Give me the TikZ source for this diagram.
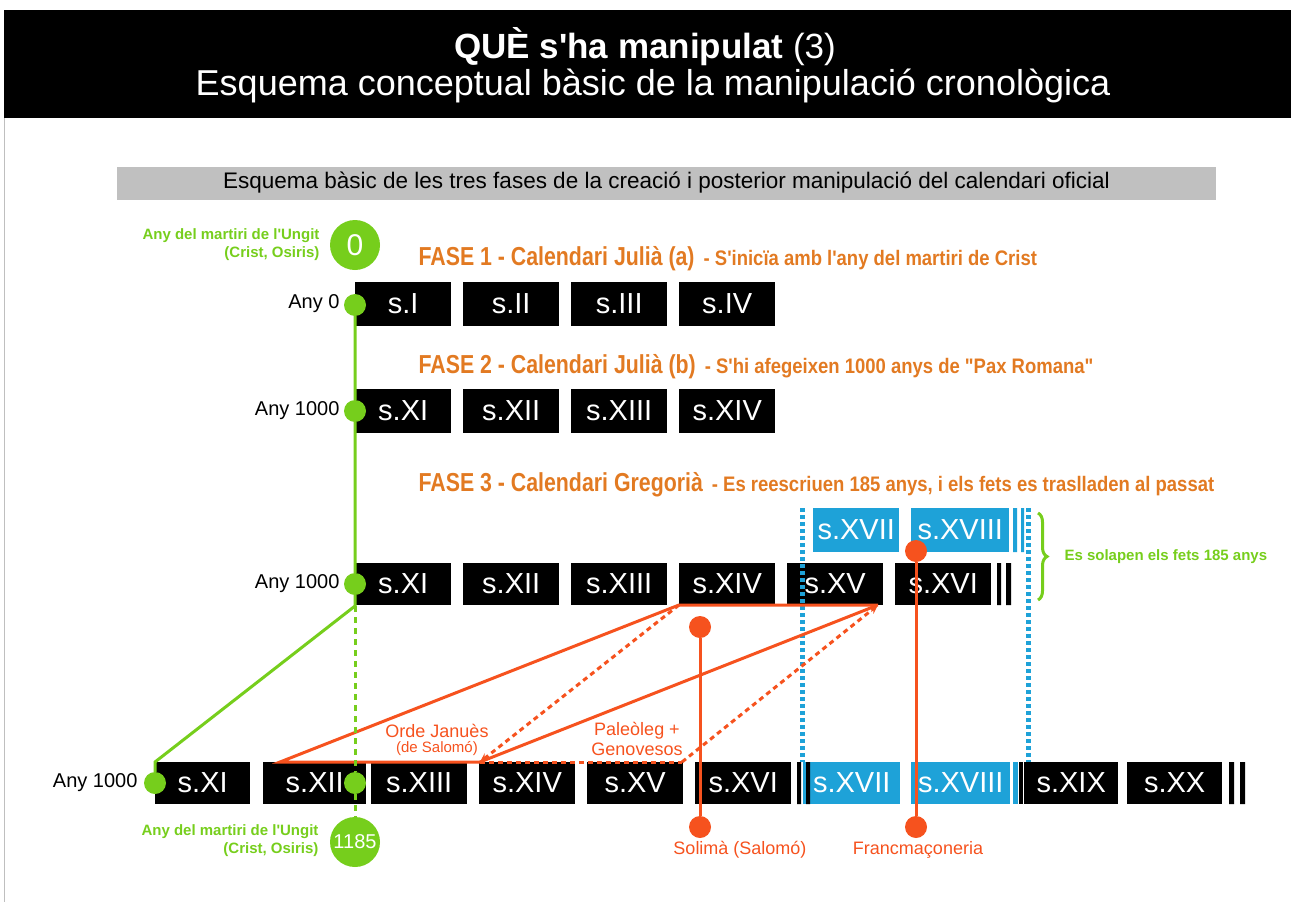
\documentclass[tikz,border=0pt]{standalone}
\usepackage{fontspec}
\setmainfont{Liberation Sans}[Ligatures=TeXOff]
\newfontfamily\fasefont{Liberation Sans}[FakeStretch=0.82,Ligatures=TeXOff]
\newfontfamily\subfont{Liberation Sans}[FakeStretch=0.88,Ligatures=TeXOff]
\usepackage{tikz}
\usetikzlibrary{arrows.meta}
\usetikzlibrary{positioning}
\usetikzlibrary{decorations.pathreplacing}
\definecolor{lime}{RGB}{118,206,28}
\definecolor{fase}{RGB}{226,122,34}
\definecolor{roig}{RGB}{246,82,30}
\definecolor{cel}{RGB}{30,162,216}
\definecolor{barra}{RGB}{192,192,192}
\tikzstyle{cent}=[fill=black,text=white,minimum width=96pt,minimum height=44pt,inner sep=0,anchor=west,font=\fontsize{29}{29}\selectfont]
\tikzstyle{gdot}=[circle,fill=lime,minimum size=22pt,inner sep=0]

\begin{document}
\begin{tikzpicture}[
 x=1pt,y=-1pt,
  blue cent/.style={cent,fill=cel},
  low cent/.style={cent,minimum height=42pt},
  odot/.style={circle,fill=roig,minimum size=22pt,inner sep=0},
  big dot/.style={circle,fill=lime,minimum size=50pt,inner sep=0,text=white},
  any/.style={anchor=east,font=\fontsize{20}{20}\selectfont},
  ungit/.style={align=right,anchor=east,text=lime,font=\fontsize{15}{18}\selectfont\bfseries},
  fase title/.style={anchor=west,text=fase,font=\fasefont\fontsize{26}{26}\selectfont\bfseries},
  fase sub/.style={anchor=base west,text=fase,font=\subfont\fontsize{21}{21}\selectfont\bfseries},
  gline/.style={lime,line width=3pt},
  gdash/.style={lime,line width=3pt,dash pattern=on 6pt off 5pt},
  oline/.style={roig,line width=3pt},
  odash/.style={roig,line width=3pt,dash pattern=on 5pt off 4pt},
  otext/.style={text=roig,font=\fontsize{18}{18}\selectfont},
  bdash/.style={cel,line width=5pt,dash pattern=on 4pt off 3pt},
  tip/.style={-{Stealth[length=9pt,width=8pt]}},
]
\useasboundingbox (0,0) rectangle (1291,902);
\draw[gray!50,line width=1pt] (4,902) -- (4,10) -- (1291,10);

% capcalera
\fill[black] (4,10) rectangle (1291,118);
\node[text=white,font=\fontsize{35}{35}\selectfont] (t1) at (645,47) {\textbf{QUÈ s'ha manipulat} (3)};
\node[text=white,font=\fontsize{36}{36}\selectfont] (t2) at (653,86) {Esquema conceptual bàsic de la manipulació cronològica};
\node[fill=barra,minimum width=1099pt,minimum height=33pt,inner sep=0,font=\fontsize{22.5}{22.5}\selectfont] (gb) at (666.5,183) {Esquema bàsic de les tres fases de la creació i posterior manipulació del calendari oficial};

% fase 1
\node[fase title] (f1) at (415,259) {FASE 1 - Calendari Julià (a)};
\node[fase sub] (f1s) at ([xshift=2pt]f1.base east) {- S'inicïa amb l'any del martiri de Crist};
\node[big dot,font=\fontsize{30}{30}\selectfont] (z0) at (355,245) {0};
\node[ungit] (u0) at (323,245) {Any del martiri de l'Ungit\\(Crist, Osiris)};
\node[cent] (a1) at (355,304) {s.I};
\node[cent] (a2) at (463,304) {s.II};
\node[cent] (a3) at (571,304) {s.III};
\node[cent] (a4) at (679,304) {s.IV};
\node[any] (y0) at (343,304) {Any 0};

% fase 2
\node[fase title] (f2) at (415,367) {FASE 2 - Calendari Julià (b)};
\node[fase sub] (f2s) at ([xshift=2pt]f2.base east) {- S'hi afegeixen 1000 anys de "Pax Romana"};
\node[cent] (b1) at (355,411) {s.XI};
\node[cent] (b2) at (463,411) {s.XII};
\node[cent] (b3) at (571,411) {s.XIII};
\node[cent] (b4) at (679,411) {s.XIV};
\node[any] (y1) at (343,411) {Any 1000};

% fase 3
\node[fase title] (f3) at (415,485) {FASE 3 - Calendari Gregorià};
\node[fase sub] (f3s) at ([xshift=2pt]f3.base east) {- Es reescriuen 185 anys, i els fets es traslladen al passat};
\node[low cent] (c1) at (355,584) {s.XI};
\node[low cent] (c2) at (463,584) {s.XII};
\node[low cent] (c3) at (571,584) {s.XIII};
\node[low cent] (c4) at (679,584) {s.XIV};
\node[low cent] (c5) at (787,584) {s.XV};
\node[low cent] (c6) at (895,584) {s.XVI};
\fill[black] (997,563) rectangle (1001,605) (1006,563) rectangle (1011,605);
\node[any] (y2) at (343,584) {Any 1000};
\node[blue cent,minimum width=86pt] (u1) at (813,530) {s.XVII};
\node[blue cent,minimum width=98pt] (u2) at (911,530) {s.XVIII};
\fill[cel] (1013,508) rectangle (1017,552) (1021,508) rectangle (1024,552);
\draw[lime,line width=3pt,decorate,decoration={brace,amplitude=9pt}] (1038,513) -- (1038,600);
\node[anchor=west,text=lime,font=\fontsize{15}{15}\selectfont\bfseries] (sol) at (1061,557) {Es solapen els fets 185 anys};

% calendari actual
\node[low cent,minimum width=95pt] (e1) at (155,783) {s.XI};
\node[low cent,minimum width=103pt] (e2) at (263,783) {s.XII};
\node[low cent] (e3) at (371,783) {s.XIII};
\node[low cent] (e4) at (479,783) {s.XIV};
\node[low cent] (e5) at (587,783) {s.XV};
\node[low cent] (e6) at (695,783) {s.XVI};
\node[blue cent,minimum height=42pt,minimum width=97pt] (e7) at (803,783) {s.XVII};
\node[blue cent,minimum height=42pt,minimum width=99pt] (e8) at (911,783) {s.XVIII};
\node[low cent,minimum width=94pt] (e9) at (1024,783) {s.XIX};
\node[low cent,minimum width=95pt] (e10) at (1127,783) {s.XX};
\fill[black] (797,762) rectangle (801,804) (806,762) rectangle (810,804);
\fill[cel] (1013,762) rectangle (1018,804);
\fill[black] (1019,762) rectangle (1023,804);
\fill[black] (1229,762) rectangle (1234,804) (1240,762) rectangle (1245,804);
\node[any] (y3) at (141,783) {Any 1000};

% linies blaves
\coordinate (bl1) at (802,508);
\coordinate (bl2) at (802,762);
\coordinate (br1) at (1028,508);
\coordinate (br2) at (1028,762);
\draw[bdash] (bl1) -- (bl2);
\draw[bdash] (br1) -- (br2);

% trasllat
\coordinate (p1) at (280,762);
\coordinate (p2) at (679,605);
\coordinate (p3) at (878,605);
\coordinate (p4) at (480,762);
\coordinate (p5) at (682,762);
\draw[oline] (p4) -- (p1) -- (p2) -- (p3);
\draw[oline,tip] (p4) -- (p3);
\draw[odash,tip] (p2) -- (p4);
\draw[odash] (p4) -- (p5);
\draw[odash,tip] (p5) -- (p3);
\node[otext] (oj) at (437,731) {Orde Januès};
\node[otext,font=\fontsize{15}{15}\selectfont] (ojs) at (437,749) {(de Salomó)};
\node[otext] (pg) at (637,731) {Paleòleg +};
\node[otext] (pgs) at (637,749) {Genovesos};

% linies verdes
\coordinate (k) at (355,606);
\coordinate (k2) at (155,762);
\node[gdot] (g0) at (355,305) {};
\node[gdot] (g1) at (355,411) {};
\node[gdot] (g2) at (355,584) {};
\node[gdot] (g3) at (155,783) {};
\node[gdot] (g4) at (355,783) {};
\node[big dot,font=\fontsize{20}{20}\selectfont] (z1) at (355,842) {1185};
\node[ungit] (u1b) at (322,841) {Any del martiri de l'Ungit\\(Crist, Osiris)};
\draw[gline] (g0) -- (g1) -- (g2) -- (k) -- (k2) -- (g3);
\draw[gdash] (k) -- (g4) -- (z1);

% punts taronja
\node[odot] (o1) at (700,627) {};
\node[odot] (o2) at (700,827) {};
\node[odot] (o3) at (916,551) {};
\node[odot] (o4) at (916,827) {};
\draw[oline] (o1) -- (o2);
\draw[oline] (o3) -- (o4);
\node[otext] (l1) at (740,850) {Solimà (Salomó)};
\node[otext] (l2) at (918,850) {Francmaçoneria};
\end{tikzpicture}
\end{document}
